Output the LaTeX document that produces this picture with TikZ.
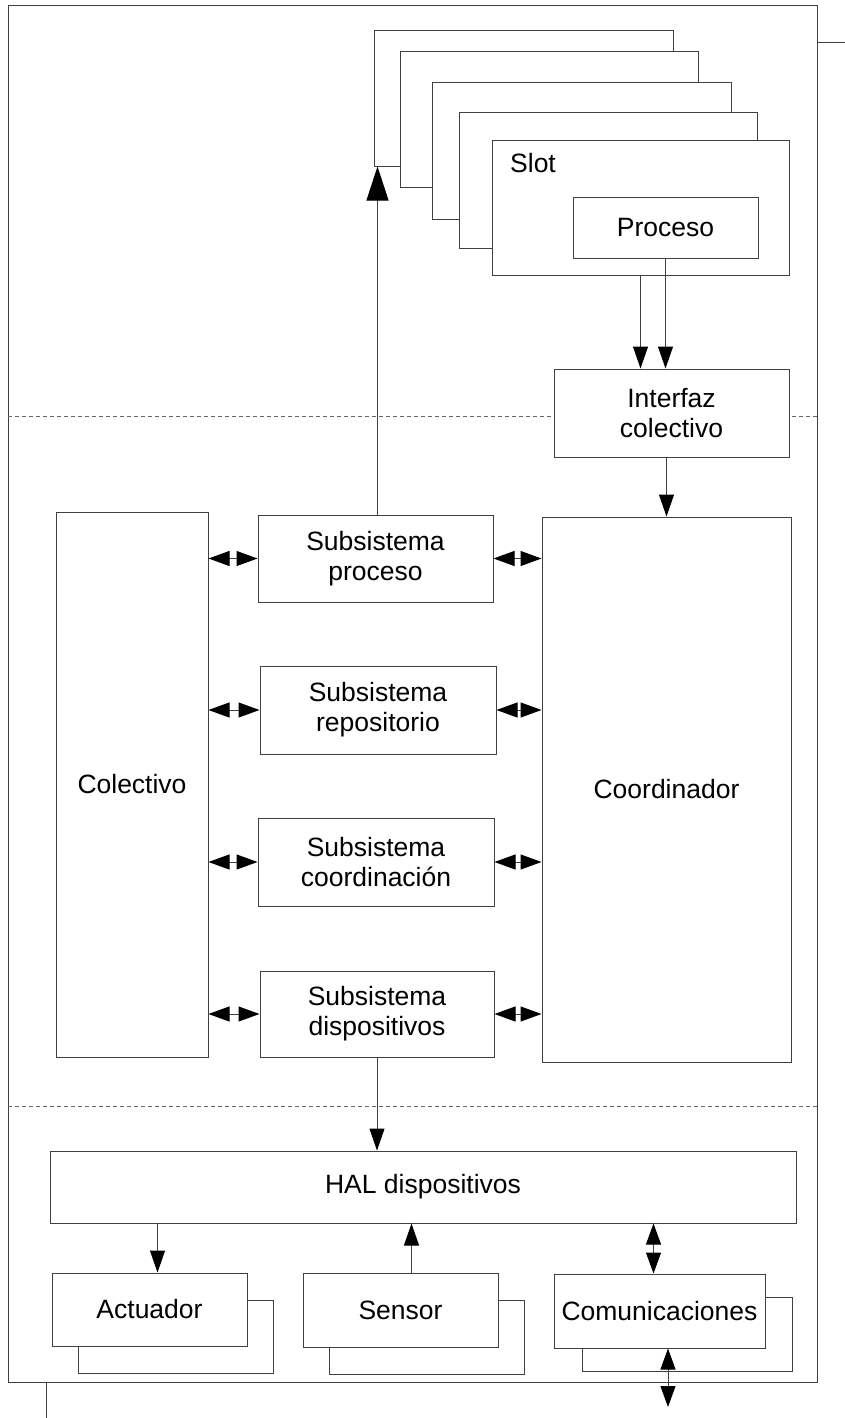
\documentclass[tikz,border=0pt]{standalone}
\usepackage{fontspec}
\setmainfont{Liberation Sans}
\usetikzlibrary{arrows.meta}
\tikzset{
  outline/.style={draw=black!75, line width=1pt},
  block/.style={draw=black!75, line width=1pt, fill=white, inner sep=2pt, align=center, font=\fontsize{26.5}{30}\selectfont},
  slotlabel/.style={anchor=west, inner sep=2pt, font=\fontsize{26.5}{30}\selectfont},
  layerline/.style={draw=black!60, line width=1pt, dash pattern=on 4pt off 3pt},
  flow/.style={draw=black!75, line width=1pt, -{Triangle[length=22pt,width=15pt,color=black]}},
  dflow/.style={draw=black!75, line width=1pt, {Triangle[length=21pt,width=15pt,color=black]}-{Triangle[length=21pt,width=15pt,color=black]}},
  bigflow/.style={draw=black!75, line width=1pt, -{Triangle[length=34pt,width=22pt,color=black]}},
}

\begin{document}
\begin{tikzpicture}[x=1pt, y=-1pt]
\useasboundingbox (0,0) rectangle (845,1418);
% outer frame and layers
\draw[outline] (8,6) rectangle (817,1382);
\draw[outline] (817,43) -- (845,43);
\draw[outline] (46,1382) -- (46,1418);
\draw[layerline] (8,416) -- (817,416);
\draw[layerline] (8,1106) -- (817,1106);
% slot stack
\node[block, minimum width=299pt, minimum height=135pt] (slota) at (523.5,98.5) {};
\node[block, minimum width=298pt, minimum height=135pt] (slotb) at (549,119.5) {};
\node[block, minimum width=299pt, minimum height=136pt] (slotc) at (581.5,151) {};
\node[block, minimum width=298pt, minimum height=135pt] (slotd) at (608,180.5) {};
\node[block, minimum width=297pt, minimum height=135pt] (slote) at (640.5,207.5) {};
\node[slotlabel] (slottxt) at (508,163) {Slot};
\node[block, minimum width=185pt, minimum height=61pt] (proceso) at (665.5,227.5) {Proceso};
\node[block, minimum width=235pt, minimum height=88pt] (interfaz) at (671.5,413) {Interfaz\\colectivo};
% middle layer
\node[block, minimum width=152pt, minimum height=545pt] (colectivo) at (132,784.5) {Colectivo};
\node[block, minimum width=249pt, minimum height=545pt] (coordinador) at (666.5,789.5) {Coordinador};
\node[block, minimum width=235pt, minimum height=87pt] (subproc) at (375.5,558.5) {Subsistema\\proceso};
\node[block, minimum width=236pt, minimum height=88pt] (subrepo) at (378,710) {Subsistema\\repositorio};
\node[block, minimum width=236pt, minimum height=88pt] (subcoord) at (376,862) {Subsistema\\coordinación};
\node[block, minimum width=234pt, minimum height=86pt] (subdisp) at (377,1014) {Subsistema\\dispositivos};
% hardware layer
\node[block, minimum width=746pt, minimum height=72pt] (hal) at (423,1187) {HAL dispositivos};
\node[block, minimum width=195pt, minimum height=73pt] (actuadorb) at (175.5,1336.5) {};
\node[block, minimum width=195pt, minimum height=73pt] (actuador) at (149.5,1309.5) {Actuador};
\node[block, minimum width=195pt, minimum height=74pt] (sensorb) at (426.5,1337) {};
\node[block, minimum width=195pt, minimum height=74pt] (sensor) at (400.5,1310) {Sensor};
\node[block, minimum width=210pt, minimum height=74pt] (comunicb) at (687,1334) {};
\node[block, minimum width=211pt, minimum height=74pt] (comunic) at (659.5,1311) {Comunicaciones};
\coordinate (comout) at (668,1407);
% connectors
\draw[bigflow] ([xshift=2pt]subproc.north) -- ([xshift=2pt]subproc.north |- slota.south);
\draw[flow] (slote.south) -- (slote.south |- interfaz.north);
\draw[flow] (proceso.south) -- (proceso.south |- interfaz.north);
\draw[flow] (interfaz.south -| coordinador.north) -- (coordinador.north);
\draw[dflow] (colectivo.east |- subproc.west) -- (subproc.west);
\draw[dflow] (subproc.east) -- (subproc.east -| coordinador.west);
\draw[dflow] (colectivo.east |- subrepo.west) -- (subrepo.west);
\draw[dflow] (subrepo.east) -- (subrepo.east -| coordinador.west);
\draw[dflow] (colectivo.east |- subcoord.west) -- (subcoord.west);
\draw[dflow] (subcoord.east) -- (subcoord.east -| coordinador.west);
\draw[dflow] (colectivo.east |- subdisp.west) -- (subdisp.west);
\draw[dflow] (subdisp.east) -- (subdisp.east -| coordinador.west);
\draw[flow] (subdisp.south) -- (subdisp.south |- hal.north);
\draw[flow] ([xshift=8pt]actuador.north |- hal.south) -- ([xshift=8pt]actuador.north);
\draw[flow] ([xshift=11pt]sensor.north) -- ([xshift=11pt]sensor.north |- hal.south);
\draw[dflow] ([xshift=-6pt]comunic.north |- hal.south) -- ([xshift=-6pt]comunic.north);
\draw[dflow] (comunic.south -| comout) -- (comout);
\end{tikzpicture}
\end{document}
